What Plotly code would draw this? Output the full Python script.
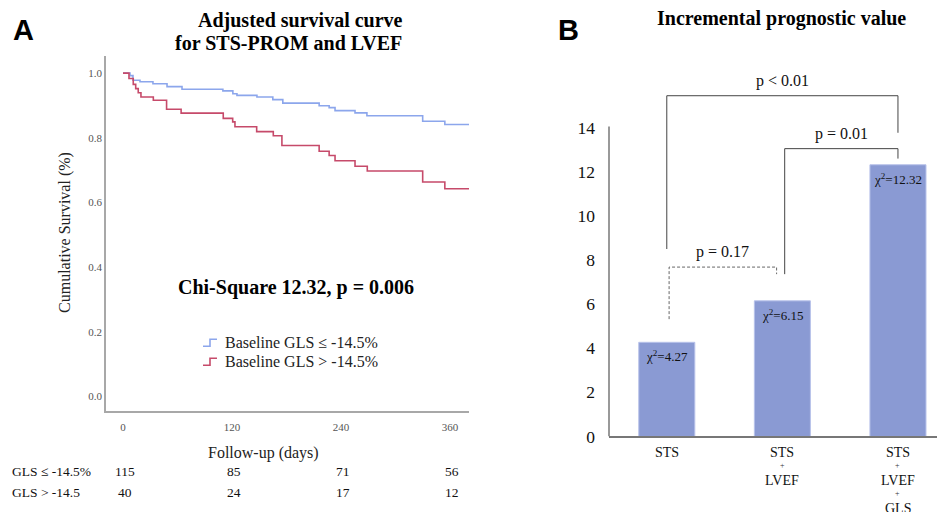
import plotly.graph_objects as go

# ---------------- data ----------------
# Panel A: adjusted survival curves
t_low = [0, 7.7, 11, 18.7, 33, 48.5, 65, 110, 121, 125.5, 147.5, 165, 176, 216, 227, 233.5, 255.5, 268.6, 330, 354.4, 381]
s_low = [1.0, 0.992, 0.978, 0.973, 0.967, 0.958, 0.950, 0.945, 0.936, 0.931, 0.926, 0.918, 0.907, 0.899, 0.893, 0.884, 0.877, 0.868, 0.851, 0.841, 0.841]
t_high = [0, 6.6, 11.3, 14, 16.8, 19.8, 33.4, 48, 64, 110.4, 120.8, 123.3, 147.2, 165.5, 175, 216, 227, 233.5, 255.5, 269, 330, 354.4, 381]
s_high = [1.0, 0.983, 0.965, 0.952, 0.939, 0.926, 0.916, 0.888, 0.876, 0.860, 0.849, 0.834, 0.819, 0.806, 0.776, 0.758, 0.745, 0.729, 0.712, 0.697, 0.663, 0.642, 0.642]
series_names = ["Baseline GLS \u2264 -14.5%", "Baseline GLS > -14.5%"]
x_ticks_a = [0, 120, 240, 360]
y_ticks_a = [0.0, 0.2, 0.4, 0.6, 0.8, 1.0]
risk_labels = ["GLS \u2264 -14.5%", "GLS > -14.5"]
risk_low = [115, 85, 71, 56]
risk_high = [40, 24, 17, 12]

# Panel B: incremental prognostic value
categories = ["STS", "STS + LVEF", "STS + LVEF + GLS"]
chi2 = [4.27, 6.15, 12.32]
y_ticks_b = [0, 2, 4, 6, 8, 10, 12, 14]
comparisons = [  # (from, to, label, dashed)
    (0, 2, "p < 0.01", False),
    (1, 2, "p = 0.01", False),
    (0, 1, "p = 0.17", True),
]

# ---------------- styling ----------------
OFFX = 8                   # horizontal page offset of the figure
SY, OY = 0.978, 9.6        # observed vertical mapping of figure px to screen px
W, H = 945 - OFFX, 512
SERIF = "Liberation Serif, Times New Roman, serif"
SANS = "Liberation Sans, Arial, sans-serif"
BLUE = "#8CA6EC"
RED = "#C64A6A"
BAR = "#8A9AD3"


def px(x):
    return (x - OFFX) / W


def py(y):
    return 1 - ((y - OY) / SY) / H


fig = go.Figure()

fig.add_trace(go.Scatter(x=t_low, y=s_low, mode="lines", line=dict(color=BLUE, width=1.6, shape="hv"),
                         name=series_names[0], xaxis="x", yaxis="y", showlegend=False))
fig.add_trace(go.Scatter(x=t_high, y=s_high, mode="lines", line=dict(color=RED, width=1.6, shape="hv"),
                         name=series_names[1], xaxis="x", yaxis="y", showlegend=False))

fig.add_trace(go.Bar(x=list(range(len(categories))), y=chi2, width=0.485,
                     marker=dict(color=BAR, line=dict(color="#B8C2EA", width=1)),
                     xaxis="x2", yaxis="y2", showlegend=False))

annotations = []
shapes = []


def note(text, x, y, xref="paper", yref="paper", size=14, family=SERIF, color="#111",
         xanchor="center", yanchor="middle", **kw):
    annotations.append(dict(text=text, x=x, y=y, xref=xref, yref=yref, showarrow=False,
                            xanchor=xanchor, yanchor=yanchor,
                            font=dict(family=family, size=size, color=color), **kw))


# ---- Panel A texts ----
note("<b>A</b>", px(23), py(32), size=29, family=SANS, color="#000")
note("<b>Adjusted survival curve</b>", px(300), py(22), size=20, color="#000")
note("<b>for STS-PROM and LVEF</b>", px(288.5), py(45), size=20, color="#000")
note("<b>Chi-Square 12.32, p = 0.006</b>", px(296), py(288), size=20, color="#000")
note("Cumulative Survival (%)", px(65), py(234), size=16, color="#222", textangle=-90)
note("Follow-up (days)", px(263), py(453), size=16, color="#222")

# legend
for i, (name, col) in enumerate(zip(series_names, [BLUE, RED])):
    yc = 343 + 19 * i
    note(name, px(223), py(yc), size=16, color="#222", xanchor="left")
    path = "M %f %f L %f %f L %f %f L %f %f" % (px(203), py(yc + 4), px(210), py(yc + 4), px(210), py(yc - 3),
                                                 px(217), py(yc - 3))
    shapes.append(dict(type="path", path=path, xref="paper", yref="paper", line=dict(color=col, width=1.6)))

# risk table
for r, (lab, vals) in enumerate(zip(risk_labels, [risk_low, risk_high])):
    yr = 472 + 21 * r
    note(lab, px(10), py(yr), size=13.5, color="#111", xanchor="left")
    for t, v in zip(x_ticks_a, vals):
        note(str(v), t, py(yr), xref="x", size=13.5, color="#111", xshift=2)

# ---- Panel B texts ----
note("<b>B</b>", px(568), py(32), size=29, family=SANS, color="#000")
note("<b>Incremental prognostic value</b>", px(781), py(20), size=20, color="#000")

for i, v in enumerate(chi2):
    note("\u03c7<sup>2</sup>=%.2f" % v, i, v, xref="x2", yref="y2", yanchor="top", yshift=-4,
         size=13, color="#111")

# category labels (multi-line, small "+")
for i, cat in enumerate(categories):
    parts = cat.split(" + ")
    yline = 453
    for j, p in enumerate(parts):
        if j > 0:
            note("+", i, py(yline), xref="x2", size=8, color="#333")
            yline += 15
        note(p, i, py(yline), xref="x2", size=14, color="#111")
        yline += 13

# comparison brackets (level of horizontal, left/right drop ends, x ends)
bracket_geo = {
    (0, 2): (15.45, 8.5, 13.77, 0.0, 2.0),
    (1, 2): (13.05, 7.36, 12.6, 1.02, 2.0),
    (0, 1): (7.68, 5.32, 7.36, 0.02, 0.95),
}
for a, b, lab, dashed in comparisons:
    lvl, yl, yr_, xl, xr = bracket_geo[(a, b)]
    dash = "3px,2px" if dashed else "solid"
    col = "#666" if dashed else "#444"
    path = "M %f %f L %f %f L %f %f L %f %f" % (xl, yl, xl, lvl, xr, lvl, xr, yr_)
    shapes.append(dict(type="path", path=path, xref="x2", yref="y2", line=dict(color=col, width=1, dash=dash)))
    note(lab, (xl + xr) / 2, lvl, xref="x2", yref="y2", yanchor="bottom", yshift=4, size=16, color="#111")

# y-axis line for panel B (only up to top tick)
shapes.append(dict(type="line", x0=0, x1=0, y0=0, y1=14.06, xref="x2 domain", yref="y2",
                   line=dict(color="#777", width=1.5)))

fig.update_layout(
    width=W, height=H, margin=dict(l=0, r=0, t=0, b=0),
    paper_bgcolor="white", plot_bgcolor="white",
    xaxis=dict(domain=[px(106), px(469)], range=[-18.7, 381], tickvals=x_ticks_a, anchor="y",
               showgrid=False, zeroline=False, showline=True, linecolor="#A8A8A8", linewidth=1.8,
               ticks="", ticklabelstandoff=4, tickfont=dict(family=SERIF, size=11, color="#555")),
    yaxis=dict(domain=[py(412), py(57)], range=[-0.0465, 1.0543], tickvals=y_ticks_a, tickformat=".1f",
               anchor="x", showgrid=False, zeroline=False, showline=True, linecolor="#A8A8A8", linewidth=1.8,
               ticks="", ticklabelstandoff=0, tickfont=dict(family=SERIF, size=11, color="#555")),
    xaxis2=dict(domain=[px(609), 1.0], range=[-0.5, 2.407], showticklabels=False, anchor="y2",
                showgrid=False, zeroline=False, showline=True, linecolor="#777", linewidth=1.5, ticks=""),
    yaxis2=dict(domain=[py(437), py(85)], range=[0, 16], tickvals=y_ticks_b, anchor="x2",
                showgrid=False, zeroline=False, showline=False, ticks="", ticklabelstandoff=13,
                tickfont=dict(family=SERIF, size=17.5, color="#111")),
    annotations=annotations, shapes=shapes,
)

fig.write_html("out.html")
